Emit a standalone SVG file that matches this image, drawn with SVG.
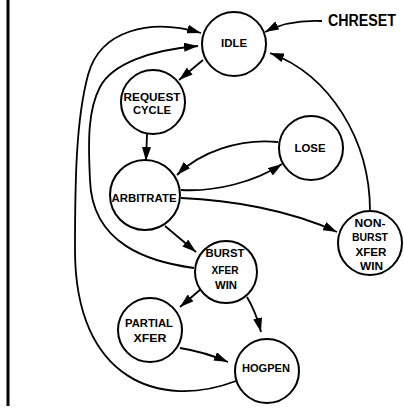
<svg xmlns="http://www.w3.org/2000/svg" width="404" height="408" viewBox="0 0 404 408">
<defs>
<marker id="ah" markerUnits="userSpaceOnUse" markerWidth="15" markerHeight="9" refX="14" refY="4.5" orient="auto">
<path d="M0,0 L14,4.5 L0,9 z" fill="#000"/>
</marker>
<style>
.n circle{fill:#fff;stroke:#000;stroke-width:2}
text{font-family:"Liberation Sans",Arial,sans-serif;font-weight:bold;font-size:11px;text-anchor:middle;fill:#000}
.c path{fill:none;stroke:#000;stroke-width:1.8;marker-end:url(#ah)}
</style>
</defs>
<rect width="404" height="408" fill="#fff"/>
<line x1="8" y1="0" x2="8" y2="406" stroke="#000" stroke-width="3"/>
<g id="connectors" class="c">
<path d="M322,21 C300,20 280,24 265,32"/>
<path d="M370,211 C370,140 330,75 270,53"/>
<path d="M203,60 L179,80"/>
<path d="M147,134 L146,161"/>
<path d="M278,142 C240,138 200,152 177,175"/>
<path d="M181,190 C215,192 255,182 282,164"/>
<path d="M181,198 C230,200 290,210 337,232"/>
<path d="M165,226 L196,252"/>
<path d="M201,289 L180,307"/>
<path d="M247,297 Q256,312 261,332"/>
<path d="M180,348 Q205,352 228,362"/>
<path d="M194,268 C150,262 92,245 90,180 C88,140 88,110 100,87 C112,64 150,50 198,46"/>
<path d="M236,381 C160,410 75,380 75,250 C75,180 76,120 88,75 C100,30 150,18 201,33"/>
</g>
<g id="idle" class="n"><circle cx="234" cy="44" r="32"/><text x="234" y="47" textLength="26" lengthAdjust="spacingAndGlyphs">IDLE</text></g>
<g id="request" class="n"><circle cx="153" cy="102" r="32"/><text x="152" y="101" textLength="57" lengthAdjust="spacingAndGlyphs">REQUEST</text><text x="152" y="114" textLength="38" lengthAdjust="spacingAndGlyphs">CYCLE</text></g>
<g id="lose" class="n"><circle cx="311" cy="148" r="32"/><text x="310" y="152" textLength="31" lengthAdjust="spacingAndGlyphs">LOSE</text></g>
<g id="arbitrate" class="n"><circle cx="145" cy="195" r="35"/><text x="144" y="201.5" textLength="65" lengthAdjust="spacingAndGlyphs">ARBITRATE</text></g>
<g id="nonburst" class="n"><circle cx="370" cy="243" r="32"/><text x="370" y="226.5" textLength="31" lengthAdjust="spacingAndGlyphs">NON-</text><text x="370" y="240.5" textLength="36" lengthAdjust="spacingAndGlyphs">BURST</text><text x="371" y="255.5" textLength="31" lengthAdjust="spacingAndGlyphs">XFER</text><text x="371.5" y="269.5" textLength="23" lengthAdjust="spacingAndGlyphs">WIN</text></g>
<g id="burst" class="n"><circle cx="226" cy="272" r="31"/><text x="225" y="257" textLength="39" lengthAdjust="spacingAndGlyphs">BURST</text><text x="225" y="274" textLength="27" lengthAdjust="spacingAndGlyphs">XFER</text><text x="226" y="289" textLength="22" lengthAdjust="spacingAndGlyphs">WIN</text></g>
<g id="partial" class="n"><circle cx="150" cy="330" r="32"/><text x="149" y="327" textLength="48" lengthAdjust="spacingAndGlyphs">PARTIAL</text><text x="150" y="342" textLength="33" lengthAdjust="spacingAndGlyphs">XFER</text></g>
<g id="hogpen" class="n"><circle cx="267" cy="371" r="32"/><text x="266" y="372" textLength="48" lengthAdjust="spacingAndGlyphs">HOGPEN</text></g>
<text x="362" y="26" style="font-size:16px" textLength="68" lengthAdjust="spacingAndGlyphs">CHRESET</text>
</svg>
